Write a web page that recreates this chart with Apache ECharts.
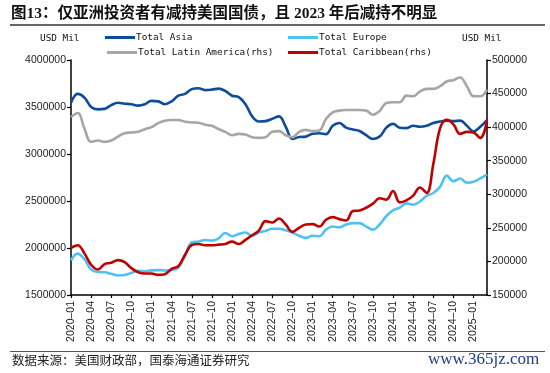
<!DOCTYPE html>
<html>
<head>
<meta charset="utf-8">
<script src="https://cdn.jsdelivr.net/npm/echarts@6/dist/echarts.min.js"></script>
<style>
html,body{margin:0;padding:0;background:#fff;}
#chart{width:550px;height:373px;}
</style>
</head>
<body>
<div id="chart"></div>
<script>
// Months 2020-01 .. 2025-03
var months = [];
(function(){
  for (var y = 2020; y <= 2025; y++) {
    for (var m = 1; m <= 12; m++) {
      if (y === 2025 && m > 3) break;
      months.push(y + '\u2013' + (m < 10 ? '0' + m : '' + m));
    }
  }
})();

var totalAsia = [
  3545000, 3640000, 3600000, 3500000, 3475000, 3480000, 3520000, 3545000, 3535000, 3530000,
  3515000, 3530000, 3565000, 3560000, 3530000, 3560000, 3620000, 3640000, 3690000, 3700000,
  3680000, 3685000, 3695000, 3670000, 3620000, 3605000, 3530000, 3400000, 3345000, 3350000,
  3375000, 3400000, 3290000, 3160000, 3180000, 3185000, 3215000, 3220000, 3210000, 3300000,
  3330000, 3280000, 3260000, 3245000, 3200000, 3160000, 3185000, 3280000, 3320000, 3280000,
  3275000, 3300000, 3290000, 3300000, 3330000, 3345000, 3355000, 3350000, 3355000, 3300000,
  3240000, 3290000, 3360000
];

var totalEurope = [
  1870000, 1940000, 1880000, 1770000, 1745000, 1742000, 1725000, 1708000, 1712000, 1735000,
  1758000, 1752000, 1762000, 1765000, 1760000, 1765000, 1790000, 1920000, 2060000, 2070000,
  2085000, 2078000, 2103000, 2160000, 2125000, 2150000, 2165000, 2130000, 2165000, 2182000,
  2205000, 2205000, 2190000, 2165000, 2130000, 2108000, 2130000, 2125000, 2195000, 2228000,
  2220000, 2250000, 2265000, 2265000, 2228000, 2195000, 2250000, 2340000, 2400000, 2430000,
  2475000, 2460000, 2495000, 2555000, 2585000, 2650000, 2770000, 2710000, 2740000, 2695000,
  2705000, 2740000, 2780000
];

var totalLatinAmerica = [
  415000, 421000, 398000, 378000, 380000, 378000, 380000, 386000, 391000, 392000,
  393000, 397000, 400000, 406000, 409500, 410700, 410700, 408000, 407000, 406500,
  403500, 402000, 397000, 393000, 388000, 390000, 389000, 385000, 384000, 385000,
  393000, 394000, 388000, 385000, 393000, 396000, 394000, 395000, 412000, 422000,
  424600, 425500, 425600, 425600, 424600, 418500, 424000, 436000, 437000, 437000,
  447000, 446000, 453000, 457000, 457000, 461000, 468000, 470000, 474000, 461000,
  446000, 446000, 456000
];

var totalCaribbean = [
  220000, 224000, 212000, 195000, 188000, 196000, 198000, 202000, 199000, 190000,
  184000, 182000, 182000, 180000, 181000, 189000, 193000, 210000, 224500, 226000,
  224000, 224000, 225000, 226000, 229500, 226000, 232000, 239000, 246000, 260000,
  258000, 264000, 255000, 244000, 250000, 255000, 255500, 252000, 262000, 266000,
  263000, 261000, 275000, 276000, 280000, 286000, 294000, 292000, 305000, 288000,
  291000, 298000, 310000, 302000, 345000, 398000, 411000, 404000, 390000, 393000,
  392000, 384000, 410000
];

var seriesNames = ['Total Asia', 'Total Europe', 'Total Latin America(rhs)', 'Total Caribbean(rhs)'];
var leftTicks = {min: 1500000, max: 4000000, interval: 500000};
var rightTicks = {min: 150000, max: 500000, interval: 50000};

var colors = ['#0E4C9A', '#4EC3F2', '#A6A6A6', '#C00000'];
var monoFont = 'DejaVu Sans Mono';
var chart = echarts.init(document.getElementById('chart'), null, {renderer: 'canvas'});

function legendAt(name, left, top) {
  return {
    data: [name], left: left, top: top, orient: 'horizontal',
    icon: 'rect', itemWidth: 30, itemHeight: 3, itemGap: 0, padding: 0,
    textStyle: {fontFamily: monoFont, fontSize: 9.4, color: '#111', padding: [0, 0, 0, -4]},
    selectedMode: false
  };
}
function plain(v) { return String(v); }

var option = {
  backgroundColor: '#fff',
  animation: false,
  color: colors,
  grid: {left: 71, right: 63, top: 60, bottom: 78, containLabel: false},
  legend: [
    legendAt(seriesNames[0], 105, 33),
    legendAt(seriesNames[1], 288, 33),
    legendAt(seriesNames[2], 107, 48),
    legendAt(seriesNames[3], 288, 48)
  ],
  xAxis: {
    type: 'category', data: months, boundaryGap: false,
    axisLine: {lineStyle: {color: '#000', width: 1.5}},
    axisTick: {interval: 2, length: 3, lineStyle: {color: '#000', width: 1.2}},
    axisLabel: {interval: 2, rotate: 90, fontSize: 10.5, color: '#222', fontFamily: 'Liberation Sans', margin: 6},
    splitLine: {show: false}
  },
  yAxis: [
    {
      type: 'value', position: 'left', min: leftTicks.min, max: leftTicks.max, interval: leftTicks.interval,
      axisLine: {show: true, lineStyle: {color: '#000', width: 1.5}},
      axisTick: {show: true, length: 4, lineStyle: {color: '#000', width: 1.2}},
      axisLabel: {fontSize: 10.5, color: '#222', fontFamily: 'Liberation Sans', margin: 5, formatter: plain},
      splitLine: {show: false}
    },
    {
      type: 'value', position: 'right', min: rightTicks.min, max: rightTicks.max, interval: rightTicks.interval,
      axisLine: {show: true, lineStyle: {color: '#000', width: 1.5}},
      axisTick: {show: true, length: 4, lineStyle: {color: '#000', width: 1.2}},
      axisLabel: {fontSize: 10.5, color: '#222', fontFamily: 'Liberation Sans', margin: 5, formatter: plain},
      splitLine: {show: false}
    }
  ],
  series: [
    {name: seriesNames[0], type: 'line', yAxisIndex: 0, data: totalAsia, smooth: 0.4, symbol: 'none', lineStyle: {width: 2.6, color: colors[0]}, itemStyle: {color: colors[0]}},
    {name: seriesNames[1], type: 'line', yAxisIndex: 0, data: totalEurope, smooth: 0.4, symbol: 'none', lineStyle: {width: 2.6, color: colors[1]}, itemStyle: {color: colors[1]}},
    {name: seriesNames[2], type: 'line', yAxisIndex: 1, data: totalLatinAmerica, smooth: 0.4, symbol: 'none', lineStyle: {width: 2.6, color: colors[2]}, itemStyle: {color: colors[2]}},
    {name: seriesNames[3], type: 'line', yAxisIndex: 1, data: totalCaribbean, smooth: 0.4, symbol: 'none', lineStyle: {width: 2.6, color: colors[3]}, itemStyle: {color: colors[3]}}
  ],
  graphic: [
    {type: 'text', left: 11, top: 6, style: {text: '图13：仅亚洲投资者有减持美国国债，且 2023 年后减持不明显', font: 'bold 15.5px "Liberation Serif", "Noto Sans CJK SC"', fill: '#111'}},
    {type: 'line', shape: {x1: 10, y1: 25, x2: 545, y2: 25}, style: {stroke: '#333', lineWidth: 1.5}},
    {type: 'text', left: 40, top: 34, style: {text: 'USD Mil', font: '9.4px "DejaVu Sans Mono"', fill: '#111'}},
    {type: 'text', left: 462, top: 34, style: {text: 'USD Mil', font: '9.4px "DejaVu Sans Mono"', fill: '#111'}},
    {type: 'line', shape: {x1: 10, y1: 351.5, x2: 545, y2: 351.5}, style: {stroke: '#555', lineWidth: 1.2}},
    {type: 'text', left: 12, top: 354, style: {text: '数据来源：美国财政部，国泰海通证券研究', font: '12.5px "Noto Sans CJK SC"', fill: '#222'}},
    {type: 'text', left: 428, top: 351, style: {text: 'www.365jz.com', font: '17px "Liberation Serif"', fill: '#1B3C8C'}}
  ]
};
chart.setOption(option);
</script>
</body>
</html>
